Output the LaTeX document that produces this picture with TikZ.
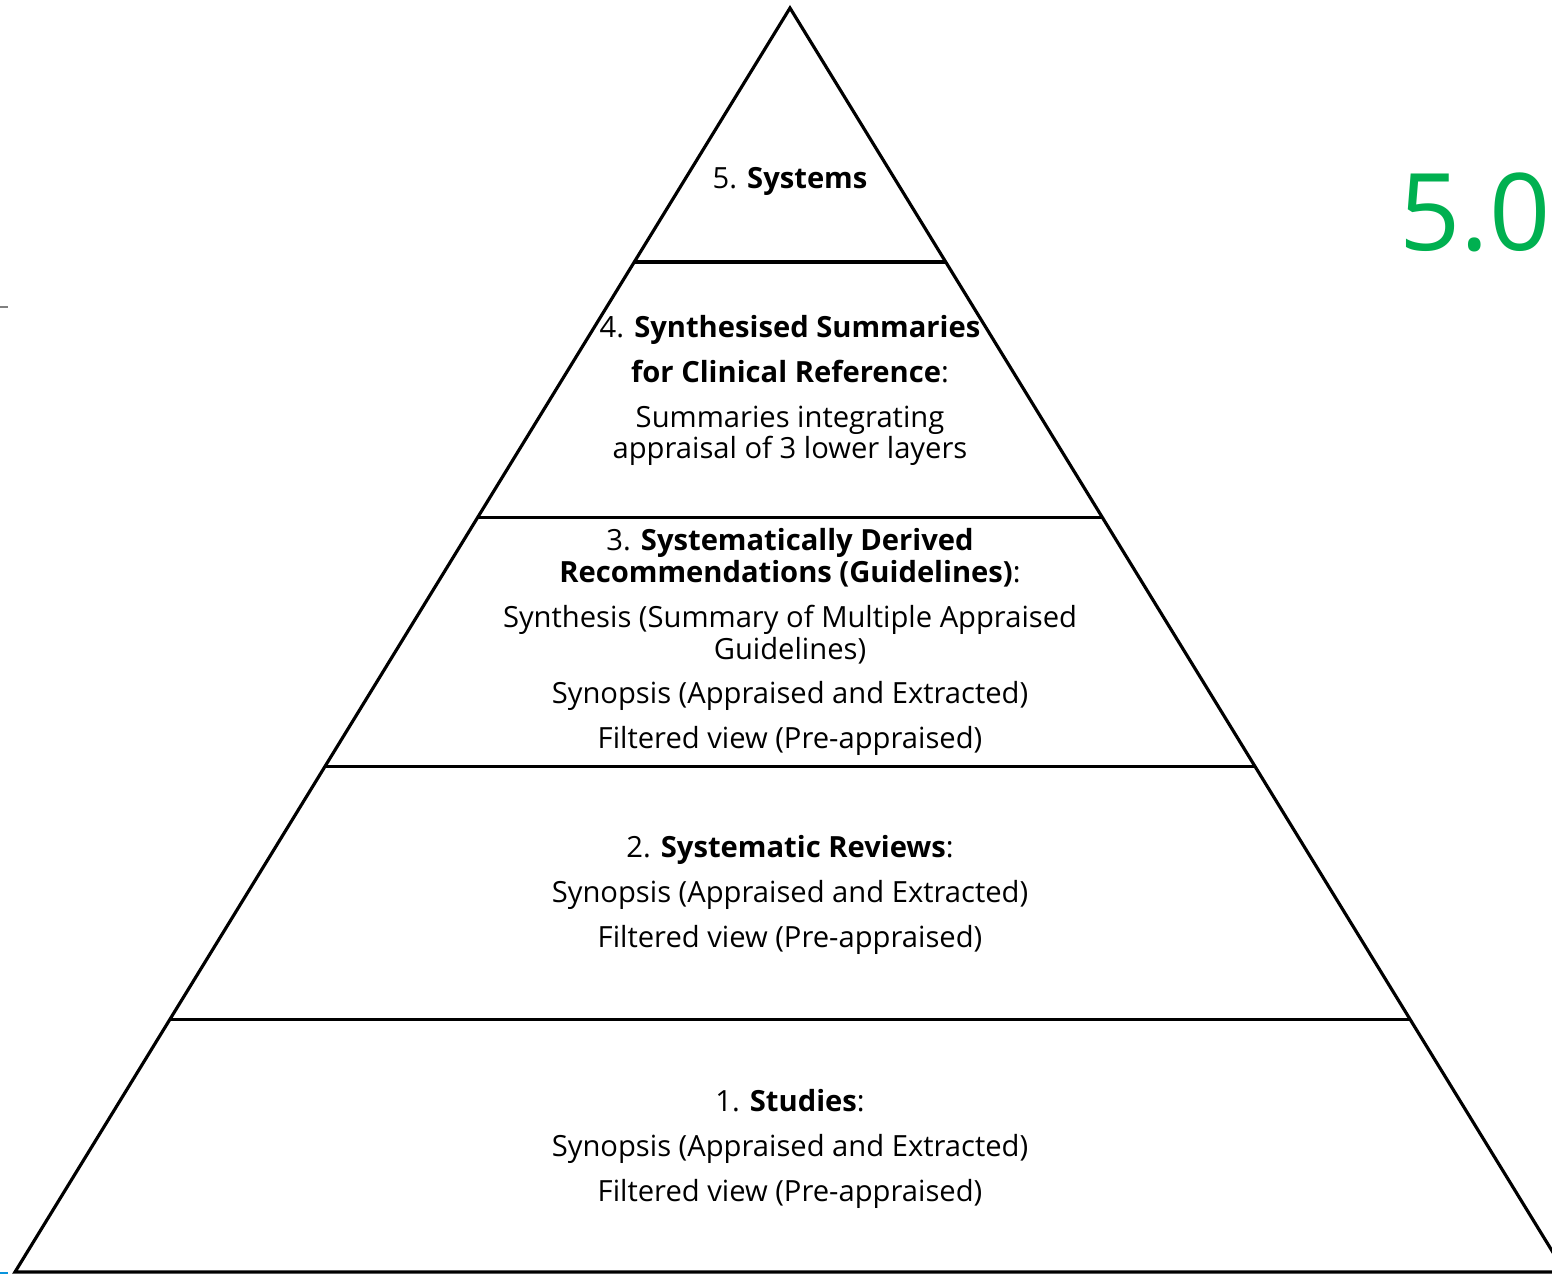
\documentclass[tikz,border=0pt]{standalone}
\usepackage{fontspec}
\setmainfont{Open Sans}
\usetikzlibrary{calc}
\definecolor{vgreen}{RGB}{0,176,80}
\newcommand{\gap}{\\[7.2pt]}

\begin{document}
\begin{tikzpicture}[x=0.02cm,y=-0.02cm,line width=1.8pt,line join=miter,
  layer/.style={align=center,inner sep=0pt,anchor=north,font=\fontsize{16.6}{18.2}\selectfont}]
\useasboundingbox(0,0)rectangle(1552,1275);
\clip(0,0)rectangle(1552,1275);
\coordinate(T)at(790,8);\coordinate(L)at(15,1272);\coordinate(R)at(1565,1272);
\draw(L)--(T)--(R)--cycle;
\foreach \f/\n in {0.201/a,0.403/b,0.6/c,0.8/d}
  \draw($(T)!\f!(L)$)coordinate(l\n)--($(T)!\f!(R)$)coordinate(r\n);
\draw[gray,line width=1pt](0,307)--(8,307);
\draw[cyan!80!blue,line width=1.5pt](0,1273)--(8,1273);
\node[layer](sys5)at(790,166){5. \textbf{Systems}};
\node[layer](sum4)at(790,314){4. \textbf{Synthesised Summaries}\gap
  \textbf{for Clinical Reference}:\gap
  Summaries integrating\\appraisal of 3 lower layers};
\node[layer](rec3)at(790,527){3. \textbf{Systematically Derived}\\
  \textbf{Recommendations (Guidelines)}:\gap
  Synthesis (Summary of Multiple Appraised\\Guidelines)\gap
  Synopsis (Appraised and Extracted)\gap
  Filtered view (Pre-appraised)};
\node[layer](rev2)at(790,834){2. \textbf{Systematic Reviews}:\gap
  Synopsis (Appraised and Extracted)\gap
  Filtered view (Pre-appraised)};
\node[layer](stu1)at(790,1088){1. \textbf{Studies}:\gap
  Synopsis (Appraised and Extracted)\gap
  Filtered view (Pre-appraised)};
\node[anchor=west,inner sep=0pt,text=vgreen,font=\fontsize{61}{61}\selectfont](ver)at(1398,212){5.0};
\end{tikzpicture}
\end{document}
